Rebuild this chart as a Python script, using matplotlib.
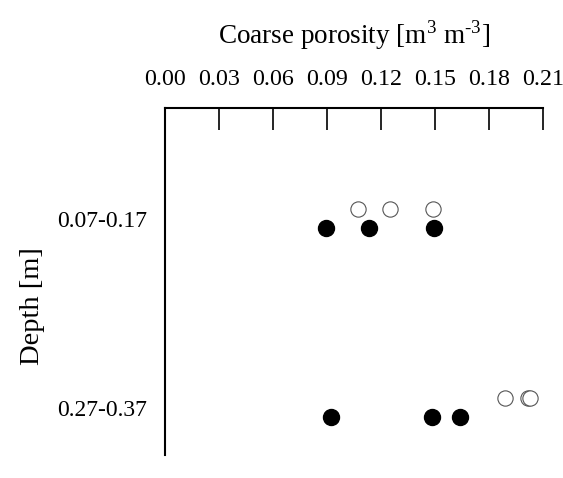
import matplotlib
matplotlib.use('Agg')
import matplotlib.pyplot as plt
import numpy as np

plt.rcParams['font.family'] = 'Liberation Serif'
plt.rcParams['mathtext.fontset'] = 'custom'
plt.rcParams['mathtext.rm'] = 'Liberation Serif'

# depth classes and porosity readings
depths = ["0.07-0.17", "0.27-0.37"]
open_vals = [[0.107, 0.125, 0.149], [0.189, 0.2015, 0.2025]]
filled_vals = [[0.0895, 0.1135, 0.1495], [0.0925, 0.1485, 0.164]]
xticks = [0.00, 0.03, 0.06, 0.09, 0.12, 0.15, 0.18, 0.21]

fig = plt.figure(figsize=(5.63, 4.78), dpi=100)
ax = fig.add_axes([0.293, 0.048, 0.6715, 0.726])

for i in range(len(depths)):
    ax.plot(open_vals[i], [i - 0.05] * len(open_vals[i]), 'o', ms=11,
            mfc='white', mec='#555555', mew=0.8, ls='none', zorder=2)
    ax.plot(filled_vals[i], [i + 0.05] * len(filled_vals[i]), 'o', ms=11.5,
            mfc='black', mec='black', ls='none', zorder=3)

ax.set_xlim(0, 0.21)
ax.set_ylim(1.25, -0.585)
ax.set_xticks(xticks)
ax.set_xticklabels(["%.2f" % t for t in xticks])
ax.set_yticks(range(len(depths)))
ax.set_yticklabels(depths)

ax.xaxis.tick_top()
ax.xaxis.set_label_position('top')
ax.tick_params(axis='x', direction='in', length=16, width=1.2, pad=13, labelsize=17.3)
ax.tick_params(axis='y', length=0, pad=13, labelsize=17)

for s in ['right', 'bottom']:
    ax.spines[s].set_visible(False)
for s in ['top', 'left']:
    ax.spines[s].set_linewidth(1.5)

ax.set_xlabel(r"Coarse porosity [m$^{3}$ m$^{\text{-}3}$]", fontsize=19.5, labelpad=18.5)
ax.set_ylabel("Depth [m]", fontsize=20.5)
ax.yaxis.set_label_coords(-0.317, 0.43)

fig.savefig("out.png", dpi=100)
